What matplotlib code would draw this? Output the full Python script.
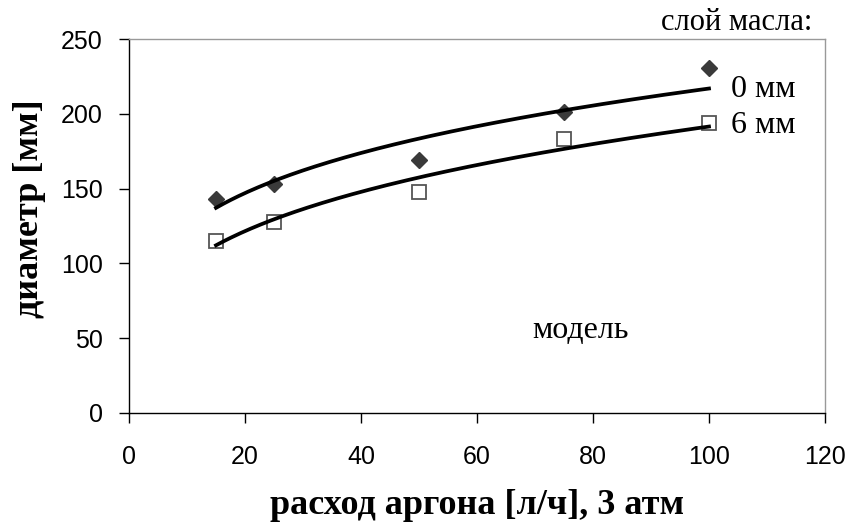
import numpy as np
import matplotlib
matplotlib.use("Agg")
import matplotlib.pyplot as plt

# Data
flow = [15, 25, 50, 75, 100]            # расход аргона [л/ч]
diam_0mm = [143, 153, 169, 201, 231]    # слой масла 0 мм
diam_6mm = [115, 128, 148, 183, 194]    # слой масла 6 мм
xticks = [0, 20, 40, 60, 80, 100, 120]
yticks = [0, 50, 100, 150, 200, 250]

fig = plt.figure(figsize=(8.5, 5.27), dpi=100)
ax = fig.add_axes([129/850, 1-412.7/527, (825-129)/850, (412.7-39.3)/527])

# power trendlines (as in the spreadsheet)
xs = np.linspace(min(flow), max(flow), 200)
def power_fit(x, y):
    b, lna = np.polyfit(np.log(x), np.log(y), 1)
    return np.exp(lna) * xs ** b

ax.plot(flow, diam_0mm, linestyle='none', marker='D', markersize=8.5,
        color='#3a3a3a', zorder=2)
ax.plot(flow, diam_6mm, linestyle='none', marker='s', markersize=10,
        markerfacecolor='white', markeredgecolor='#555555', markeredgewidth=1.3, zorder=2)
ax.plot(xs, power_fit(flow, diam_0mm), color='black', lw=2.7, zorder=3)
ax.plot(xs, power_fit(flow, diam_6mm), color='black', lw=2.7, zorder=3)

ax.set_xlim(0, 120)
ax.set_ylim(0, 250)
ax.set_xticks(xticks)
ax.set_yticks(yticks)

for s in ['top', 'right']:
    ax.spines[s].set_color('#999999')
    ax.spines[s].set_linewidth(1.0)
for s in ['left', 'bottom']:
    ax.spines[s].set_color('black')
    ax.spines[s].set_linewidth(1.0)

ax.tick_params(axis='both', direction='out', length=7, width=1.0,
               labelsize=18, colors='black')
ax.tick_params(axis='y', pad=12)
ax.tick_params(axis='x', pad=16)
for lab in ax.get_xticklabels() + ax.get_yticklabels():
    lab.set_family('Liberation Sans')

serif = 'Liberation Serif'
ax.set_xlabel('расход аргона [л/ч], 3 атм', family=serif, fontweight='bold',
              fontsize=26)
ax.set_ylabel('диаметр [мм]', family=serif, fontweight='bold', fontsize=26)
ax.xaxis.label.set_va('center')
ax.yaxis.label.set_va('center')
ax.xaxis.set_label_coords((477-129)/696, (412.7-505)/373.4)
ax.yaxis.set_label_coords((30-129)/696, (412.7-209)/373.4)

fig.text(737/850, 1-22/527, 'слой масла:', family=serif, fontsize=22,
         ha='center', va='center')
fig.text(731/850, 1-89/527, '0 мм', family=serif, fontsize=23,
         ha='left', va='center')
fig.text(731/850, 1-126/527, '6 мм', family=serif, fontsize=23,
         ha='left', va='center')
fig.text(581/850, 1-330/527, 'модель', family=serif, fontsize=23,
         ha='center', va='center')

fig.savefig('out.png', dpi=100)
